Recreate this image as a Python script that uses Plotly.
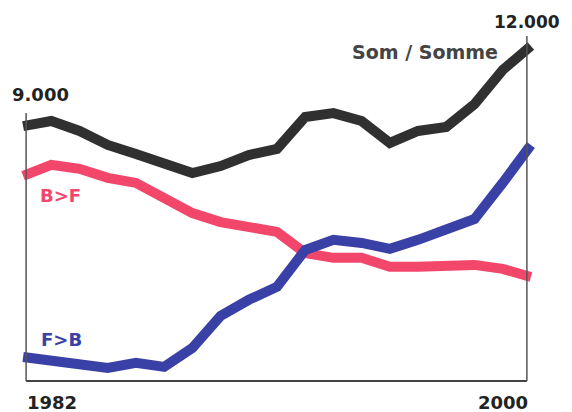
import plotly.graph_objects as go

years = list(range(1982, 2001))
som = [9050, 9230, 8875, 8380, 8060, 7700, 7380, 7630, 8020, 8240,
       9370, 9510, 9230, 8450, 8875, 9020, 9830, 11040, 11890]
b_gt_f = [7280, 7670, 7530, 7210, 7030, 6460, 5960, 5640, 5470, 5290,
          4540, 4370, 4370, 4050, 4050, 4080, 4120, 3980, 3690]
f_gt_b = [850, 710, 570, 460, 640, 500, 1170, 2310, 2880, 3340,
          4650, 5010, 4900, 4690, 5010, 5360, 5750, 7030, 8380]

start_label = "9.000"
end_label = "12.000"
start_year_label = "1982"
end_year_label = "2000"
left_axis_top = 9514
right_axis_top = 12248

RED = "#f2476b"
BLUE = "#3a41a6"
BLACK = "#303030"
FONT = "DejaVu Sans"

fig = go.Figure()
for vals, col, name in [(som, BLACK, "Som / Somme"), (b_gt_f, RED, "B>F"), (f_gt_b, BLUE, "F>B")]:
    fig.add_trace(go.Scatter(x=years, y=vals, mode="lines", name=name,
                             line=dict(color=col, width=10), hoverinfo="skip"))

xl = 1982.106
xr = 1999.858
fig.add_shape(type="line", x0=xl, x1=xl, y0=0, y1=left_axis_top,
              line=dict(color="#555", width=1.5), layer="above")
fig.add_shape(type="line", x0=xr, x1=xr, y0=0, y1=right_axis_top,
              line=dict(color="#555", width=1.5), layer="above")
fig.add_shape(type="line", x0=xl, x1=xr, y0=0, y1=0,
              line=dict(color="#444", width=2), layer="above")

# plot area in window pixels: x 8.9..545.1, y 11..395
def ann(text, px, py, color, size=18, anchor="center"):
    fig.add_annotation(text=f"<b>{text}</b>",
                       x=(px - 8.9) / 536.2, y=(395 - py) / 384.0,
                       xref="paper", yref="paper",
                       showarrow=False, xanchor=anchor, yanchor="middle",
                       font=dict(family=FONT, size=size, color=color))

ann(start_label, 40, 94, "#222")
ann(end_label, 562, 22, "#222", 17, "right")
ann("Som / Somme", 425, 52, "#444", 19)
ann("B>F", 60, 195, RED)
ann("F>B", 61, 339, BLUE)
ann(start_year_label, 52, 402, "#222")
ann(end_year_label, 503, 402, "#222")

fig.update_layout(
    width=564, height=404,
    margin=dict(l=1, r=27, t=3, b=17),
    paper_bgcolor="white", plot_bgcolor="white",
    showlegend=False,
    xaxis=dict(range=[1981.5, 2000.5], visible=False, fixedrange=True),
    yaxis=dict(range=[-500, 13135], visible=False, fixedrange=True),
)
fig.write_html("out.html")
